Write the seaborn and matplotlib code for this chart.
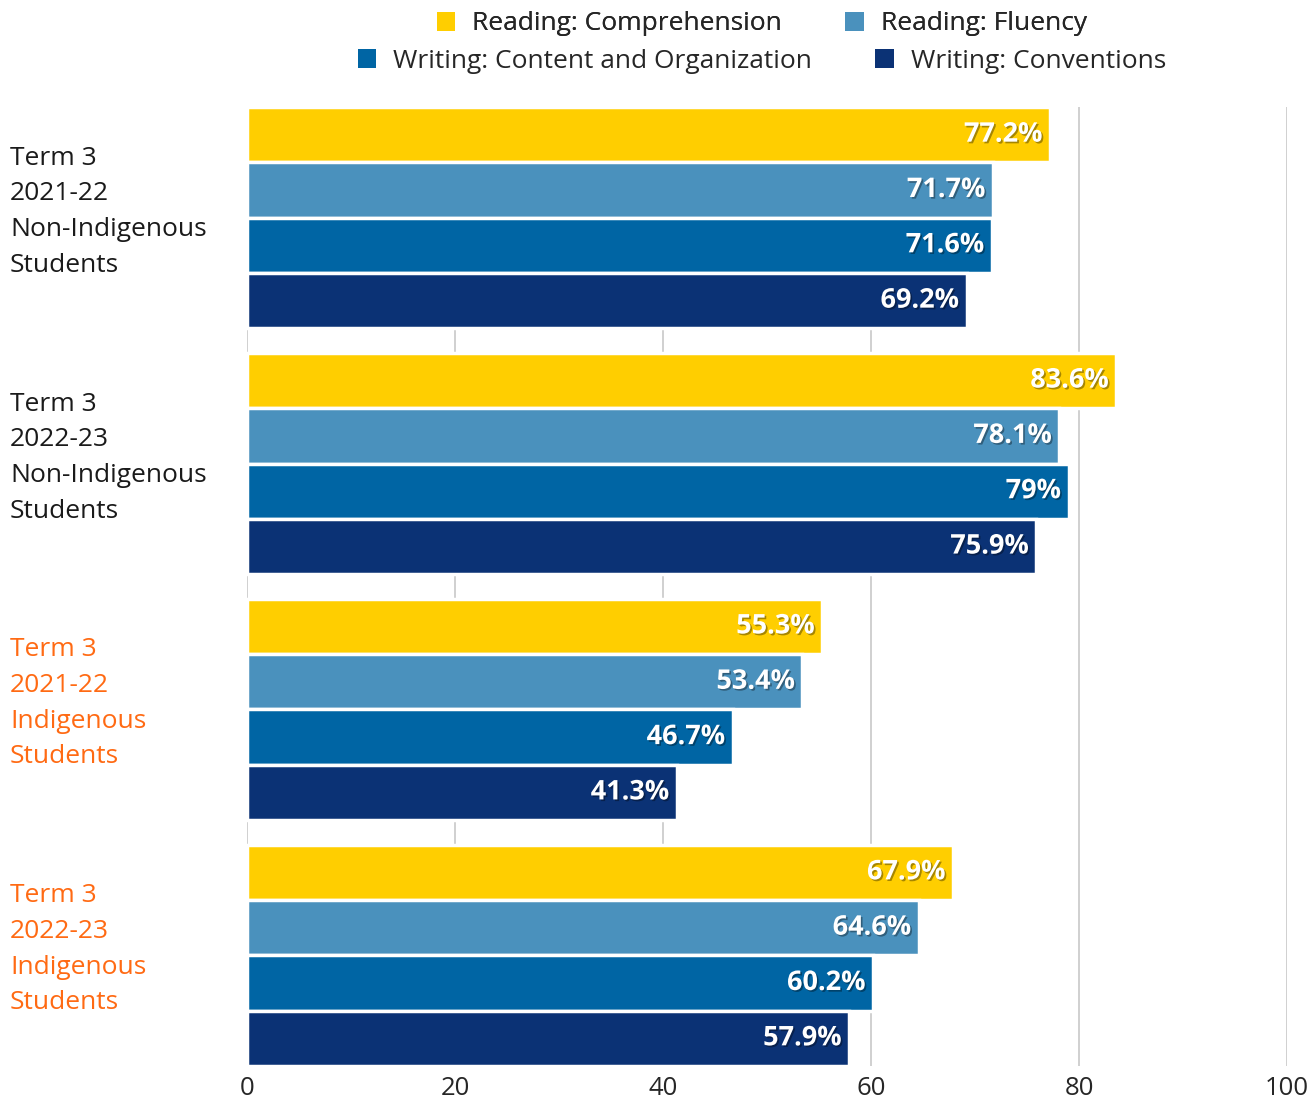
import pandas as pd
import matplotlib.pyplot as plt
import matplotlib.patheffects as pe
import matplotlib.transforms as mtransforms
from matplotlib.patches import Patch
import seaborn as sns

groups = ["Term 3\n2021-22\nNon-Indigenous\nStudents",
          "Term 3\n2022-23\nNon-Indigenous\nStudents",
          "Term 3\n2021-22\nIndigenous\nStudents",
          "Term 3\n2022-23\nIndigenous\nStudents"]
group_colors = ["#1a1a1a", "#1a1a1a", "#FF6A13", "#FF6A13"]
series = ["Reading: Comprehension", "Reading: Fluency",
          "Writing: Content and Organization", "Writing: Conventions"]
series_colors = ["#FFCE00", "#4A91BD", "#0065A4", "#0B3275"]

comprehension = [77.2, 83.6, 55.3, 67.9]
fluency = [71.7, 78.1, 53.4, 64.6]
content = [71.6, 79.0, 46.7, 60.2]
conventions = [69.2, 75.9, 41.3, 57.9]
xticks = [0, 20, 40, 60, 80, 100]


def main():
    sns.set_style("white")
    plt.rcParams['font.family'] = ['Open Sans', 'DejaVu Sans']

    rows = []
    for s, vals in zip(series, [comprehension, fluency, content, conventions]):
        for g, v in zip(groups, vals):
            rows.append({"group": g, "series": s, "value": v})
    df = pd.DataFrame(rows)

    fig = plt.figure(figsize=(13.15, 11.05), dpi=100)
    ax = fig.add_axes([247 / 1315, 1 - 1066 / 1105, 1040 / 1315, 959 / 1105])

    ax.set_axisbelow(True)
    for t in xticks:
        ax.axvline(t, color="#c8c8c8", lw=1.2, zorder=0)

    sns.barplot(data=df, y="group", x="value", hue="series", order=groups,
                hue_order=series, palette=series_colors, orient="h",
                width=0.9, edgecolor="white", linewidth=2.5, legend=False,
                saturation=1, ax=ax)

    # value labels inside bars
    shadow = [pe.SimplePatchShadow(offset=(1.2, -1.2), shadow_rgbFace="black", alpha=0.35),
              pe.Normal()]
    for container in ax.containers:
        for bar in container:
            w = bar.get_width()
            y = bar.get_y() + bar.get_height() / 2
            ax.text(w - 0.7, y, f"{w:g}%", ha="right", va="center",
                    color="white", fontsize=19.5, fontweight="bold",
                    path_effects=shadow)

    ax.set_xlim(0, 100)
    ax.set_ylim(3.45, -0.45)
    ax.set_xticks(xticks)
    ax.set_xticklabels([str(t) for t in xticks], fontsize=18.5)
    ax.tick_params(axis="x", length=0, pad=7)
    ax.set_xlabel("")
    ax.set_ylabel("")

    # group labels, left aligned at the figure edge
    ax.set_yticklabels([])
    ax.tick_params(axis="y", length=0)
    lift = mtransforms.ScaledTranslation(0, 6 / 100, fig.dpi_scale_trans)
    for pos, g, c in zip(ax.get_yticks(), groups, group_colors):
        ax.text(-237 / 1040, pos, g, ha="left", va="center", color=c,
                fontsize=19, linespacing=1.56,
                transform=ax.get_yaxis_transform() + lift)

    for side in ["top", "right", "bottom", "left"]:
        ax.spines[side].set_visible(False)

    handles = [Patch(facecolor=c, edgecolor="none") for c in series_colors]
    leg_kw = dict(ncol=2, frameon=False, fontsize=19, handlelength=0.7,
                  handleheight=0.7, handletextpad=0.65, columnspacing=2.4,
                  loc="center")
    leg1 = fig.legend(handles[:2], series[:2], bbox_to_anchor=(762 / 1315, 1 - 24 / 1105), **leg_kw)
    fig.add_artist(leg1)
    fig.legend(handles[2:], series[2:], bbox_to_anchor=(762 / 1315, 1 - 61 / 1105), **leg_kw)

    fig.savefig("out.png", dpi=100)


if __name__ == '__main__':
    main()
